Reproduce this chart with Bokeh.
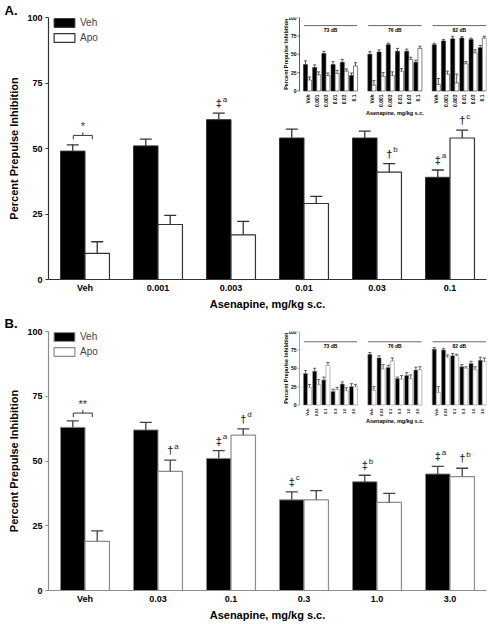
import numpy as np
from bokeh.plotting import figure
from bokeh.models import Range1d, ColumnDataSource, LabelSet, Label, Legend, LegendItem, Title
from bokeh.layouts import column
from bokeh.embed import file_html
from bokeh.resources import INLINE
from bokeh.core.properties import value

# ---------------- Panel A data ----------------
a_doses = ["Veh", "0.001", "0.003", "0.01", "0.03", "0.1"]
a_veh = [49, 51, 61, 54, 54, 39]
a_veh_err = [2.4, 2.6, 2.5, 3.4, 2.6, 2.8]
a_apo = [10, 21, 17, 29, 41, 54]
a_apo_err = [4.4, 3.5, 5.2, 2.7, 3.2, 3.0]
a_mark_dose = ["0.003", "0.03", "0.1", "0.1"]
a_mark_group = ["Veh", "Apo", "Veh", "Apo"]
a_mark_sym = ["‡", "†", "‡", "†"]
a_mark_letter = ["a", "b", "a", "c"]
a_bracket_dose = "Veh"
a_bracket_text = "*"
a_bracket_level = 55
a_inset_levels = ["73 dB", "76 dB", "82 dB"]
a_inset_doses = ["Veh", "0.001", "0.003", "0.01", "0.03", "0.1"]
a_inset_veh = [[36, 32, 51, 36, 39, 21], [50, 53, 63, 54, 54, 39], [63, 68, 71, 72, 70, 59]]
a_inset_veh_err = [[5, 3.5, 3, 4, 4, 3.5], [3.5, 3, 2, 4, 3, 3], [2, 2, 3.5, 2, 2, 3]]
a_inset_apo = [[15, 22, 21, 24, 27, 34], [8, 20, 21, 27, 43, 58], [9, 23, 11, 37, 52, 72]]
a_inset_apo_err = [[4, 4, 3.5, 4, 3, 4.5], [6, 5, 5, 3.5, 3, 3], [8, 4, 12, 3, 4, 2.5]]

# ---------------- Panel B data ----------------
b_doses = ["Veh", "0.03", "0.1", "0.3", "1.0", "3.0"]
b_veh = [63, 62, 51, 35, 42, 45]
b_veh_err = [2.5, 2.9, 3.0, 3.1, 2.5, 2.9]
b_apo = [19, 46, 60, 35, 34, 44]
b_apo_err = [4.0, 4.3, 2.4, 3.6, 3.5, 3.2]
b_mark_dose = ["0.03", "0.1", "0.1", "0.3", "1.0", "3.0", "3.0"]
b_mark_group = ["Apo", "Veh", "Apo", "Veh", "Veh", "Veh", "Apo"]
b_mark_sym = ["†", "‡", "†", "‡", "‡", "‡", "†"]
b_mark_letter = ["a", "a", "d", "c", "b", "a", "b"]
b_bracket_dose = "Veh"
b_bracket_text = "**"
b_bracket_level = 68.5
b_inset_levels = ["73 dB", "76 dB", "82 dB"]
b_inset_doses = ["Veh", "0.03", "0.1", "0.3", "1.0", "3.0"]
b_inset_veh = [[43, 46, 34, 18.5, 28.5, 25], [69, 64, 51, 36, 40, 47.5], [76, 75, 67, 52, 56.5, 61]]
b_inset_veh_err = [[4, 4, 4, 3, 3, 4], [2.5, 3, 3, 2, 4, 4], [2, 2, 3, 3, 3, 4]]
b_inset_apo = [[24, 27.5, 54, 21, 19.5, 25], [20, 49, 60, 35, 36, 48], [17, 65, 67, 50, 48, 59]]
b_inset_apo_err = [[4, 7, 4, 3, 4, 3], [5, 6, 4, 5, 5, 4], [8, 3, 2, 2, 4, 5]]

y_ticks = [0, 25, 50, 75, 100]
x_title = "Asenapine, mg/kg s.c."
y_title = "Percent Prepulse Inhibition"

SANS = "Liberation Sans"
MARK_FONT = "Liberation Sans"
WIDTH = 488
LEFT = 48
RIGHT = 2
FW = WIDTH - LEFT - RIGHT  # frame width
GROUP_PX = FW / 6.0


def build(tag, doses, veh, veh_err, apo, apo_err, m_dose, m_grp, m_sym, m_let,
          br_dose, br_text, br_level, in_levels, in_doses, in_veh, in_veh_err, in_apo, in_apo_err,
          height, top, bottom, axis_col, outline_col, err_col, in_axis_col, db_level, in_xt_off,
          in_tick_font, tag_standoff):
    H = height - top - bottom
    ppu = H / 100.0
    p = figure(width=WIDTH, height=height, x_range=Range1d(-0.5, 5.5), y_range=Range1d(0, 100),
               min_border_left=LEFT, min_border_right=RIGHT, min_border_top=top, min_border_bottom=bottom,
               output_backend="svg", toolbar_location=None, tools="")
    p.outline_line_color = None
    p.xgrid.visible = False
    p.ygrid.visible = False
    p.background_fill_color = "white"

    # panel tag as the plot title
    p.title = Title(text=tag, align="left", offset=-44, standoff=tag_standoff,
                    text_font=SANS, text_font_style="bold", text_font_size="13px",
                    text_color="black", vertical_align="bottom")

    # axes
    p.yaxis.ticker = y_ticks
    p.yaxis.major_tick_out = 3
    p.yaxis.major_tick_in = 0
    p.yaxis.minor_tick_line_color = None
    p.yaxis.axis_line_color = axis_col
    p.yaxis.major_tick_line_color = axis_col
    p.yaxis.major_label_standoff = 3
    p.yaxis.axis_label = y_title
    p.yaxis.axis_label_standoff = 4
    p.xaxis.ticker = list(range(len(doses)))
    p.xaxis.major_label_overrides = {i: d for i, d in enumerate(doses)}
    p.xaxis.major_tick_out = 0
    p.xaxis.major_tick_in = 0
    p.xaxis.minor_tick_line_color = None
    p.xaxis.axis_line_color = axis_col
    p.xaxis.major_label_standoff = 3
    p.xaxis.axis_label = x_title
    p.xaxis.axis_label_standoff = 2
    for ax in (p.xaxis, p.yaxis):
        ax.major_label_text_font = SANS
        ax.major_label_text_font_style = "bold"
        ax.major_label_text_font_size = "9px"
        ax.major_label_text_color = "black"
        ax.axis_label_text_font = SANS
        ax.axis_label_text_font_style = "bold"
        ax.axis_label_text_font_size = "11px"
        ax.axis_label_text_color = "black"
        ax.axis_line_width = 1.2

    off = 0.1675
    bw = 0.335
    cap = 6 / GROUP_PX
    x = np.arange(len(doses), dtype=float)
    veh_a = np.array(veh, float)
    apo_a = np.array(apo, float)
    veh_top = veh_a + np.array(veh_err)
    apo_top = apo_a + np.array(apo_err)

    rb = p.vbar(x=x - off, top=veh_a, bottom=0, width=bw, fill_color="black", line_color=outline_col, line_width=1)
    rw = p.vbar(x=x + off, top=apo_a, bottom=0, width=bw, fill_color="white", line_color=outline_col, line_width=1.2)
    ex = np.concatenate([x - off, x + off])
    e0 = np.concatenate([veh_a, apo_a])
    e1 = np.concatenate([veh_top, apo_top])
    p.segment(x0=ex, y0=e0, x1=ex, y1=e1, line_color=err_col, line_width=1.3)
    p.segment(x0=ex - cap, y0=e1, x1=ex + cap, y1=e1, line_color=err_col, line_width=1.3)

    # significance marks
    idx = {d: i for i, d in enumerate(doses)}
    mx, my = [], []
    for d, g in zip(m_dose, m_grp):
        i = idx[d]
        if g == "Veh":
            mx.append(i - off); my.append(veh_top[i])
        else:
            mx.append(i + off); my.append(apo_top[i])
    msrc = ColumnDataSource(dict(x=mx, y=my, s=m_sym, l=m_let))
    p.add_layout(LabelSet(x="x", y="y", text="s", source=msrc, y_offset=10, text_align="center",
                          text_baseline="middle", text_font=value(MARK_FONT), text_font_size="11px",
                          text_font_style="bold", text_color="#333333"))
    p.add_layout(LabelSet(x="x", y="y", text="l", source=msrc, x_offset=4, y_offset=14, text_align="left",
                          text_baseline="middle", text_font=value(MARK_FONT), text_font_size="8px",
                          text_color="#222222"))

    # bracket
    bi = idx[br_dose]
    bl, br = bi - 0.16, bi + 0.10
    bm = (bl + br) / 2
    tick = 4 / ppu
    p.segment(x0=[bl, bl, br, bm], y0=[br_level, br_level, br_level, br_level],
              x1=[br, bl, br, bm], y1=[br_level, br_level - tick, br_level - tick, br_level + 3 / ppu],
              line_color="#333333", line_width=1)
    p.add_layout(Label(x=bm, y=br_level, text=br_text, y_offset=9, text_align="center",
                       text_baseline="middle", text_font=MARK_FONT, text_font_size="11px",
                       text_color="#333333"))

    # legend
    legend = Legend(items=[LegendItem(label="Veh", renderers=[rb]), LegendItem(label="Apo", renderers=[rw])],
                    location=(3, H - 26), orientation="vertical", glyph_width=26, glyph_height=11,
                    label_height=11, label_width=20, spacing=4, padding=0, margin=0, label_standoff=3,
                    border_line_color=None, background_fill_alpha=0,
                    label_text_font=SANS, label_text_font_size="10px")
    p.add_layout(legend)

    # ---------------- inset ----------------
    s_y = 0.735            # px per inset unit (y)
    s_x = 9.2              # px per inset slot (x)
    x0_px = 259.0          # px from frame left to first inset slot
    p.extra_y_ranges = {"iy": Range1d(100 - H / s_y, 100)}
    p.extra_x_ranges = {"ix": Range1d(-x0_px / s_x, (FW - x0_px) / s_x)}
    R = dict(x_range_name="ix", y_range_name="iy")

    ipos, iv, ive, ia, iae, ilab = [], [], [], [], [], []
    for g in range(len(in_levels)):
        for i in range(len(in_doses)):
            ipos.append(g * 7 + i)
            iv.append(in_veh[g][i]); ive.append(in_veh[g][i] + in_veh_err[g][i])
            ia.append(in_apo[g][i]); iae.append(in_apo[g][i] + in_apo_err[g][i])
            ilab.append(in_doses[i])
    ipos = np.array(ipos, float)
    ib = 0.44
    ioff = 0.22
    icap = 1.6 / s_x
    p.vbar(x=ipos - ioff, top=iv, bottom=0, width=ib, fill_color="black", line_color=outline_col,
           line_width=0.6, **R)
    p.vbar(x=ipos + ioff, top=ia, bottom=0, width=ib, fill_color="white", line_color=outline_col,
           line_width=0.6, **R)
    iex = np.concatenate([ipos - ioff, ipos + ioff])
    ie0 = np.concatenate([iv, ia])
    ie1 = np.concatenate([ive, iae])
    p.segment(x0=iex, y0=ie0, x1=iex, y1=ie1, line_color=err_col, line_width=0.8, **R)
    p.segment(x0=iex - icap, y0=ie1, x1=iex + icap, y1=ie1, line_color=err_col, line_width=0.8, **R)

    # inset y axis
    iax = -8.0 / s_x
    p.segment(x0=[iax], y0=[0], x1=[iax], y1=[100], line_color=in_axis_col, line_width=0.8, **R)
    itl = 2.0 / s_x
    p.segment(x0=[iax - itl] * len(y_ticks), y0=y_ticks, x1=[iax] * len(y_ticks), y1=y_ticks,
              line_color=in_axis_col, line_width=0.8, **R)
    tsrc = ColumnDataSource(dict(x=[iax] * len(y_ticks), y=y_ticks, t=[str(t) for t in y_ticks]))
    p.add_layout(LabelSet(x="x", y="y", text="t", source=tsrc, x_offset=-3, text_align="right",
                          text_baseline="middle", text_font=value(SANS), text_font_size="5px",
                          text_font_style="bold", text_color="black", **R))
    p.add_layout(Label(x=iax, y=50, text=y_title, x_offset=-14, angle=np.pi / 2, text_align="center",
                       text_baseline="middle", text_font=SANS, text_font_size="5.5px",
                       text_font_style="bold", text_color="black", **R))
    # inset x labels
    lsrc = ColumnDataSource(dict(x=ipos, y=[0] * len(ipos), t=ilab))
    p.add_layout(LabelSet(x="x", y="y", text="t", source=lsrc, y_offset=-3.5, angle=np.pi / 2,
                          text_align="right", text_baseline="middle", text_font=value(SANS),
                          text_font_size=in_tick_font, text_font_style="bold", text_color="black", **R))
    p.add_layout(Label(x=9.5, y=0, text=x_title, y_offset=in_xt_off, text_align="center",
                       text_baseline="middle", text_font=SANS, text_font_size="5.5px",
                       text_font_style="bold", text_color="black", **R))
    # dB groups
    gx0 = [g * 7 - 0.4 for g in range(len(in_levels))]
    gx1 = [g * 7 + 5.4 for g in range(len(in_levels))]
    p.segment(x0=gx0, y0=[db_level] * 3, x1=gx1, y1=[db_level] * 3, line_color="#666666",
              line_width=1, **R)
    dsrc = ColumnDataSource(dict(x=[g * 7 + 2.5 for g in range(len(in_levels))], y=[db_level] * 3,
                                 t=in_levels))
    p.add_layout(LabelSet(x="x", y="y", text="t", source=dsrc, y_offset=-4.5, text_align="center",
                          text_baseline="middle", text_font=value(SANS), text_font_size="5px",
                          text_font_style="bold", text_color="black", **R))
    return p


pa = build("A.", a_doses, a_veh, a_veh_err, a_apo, a_apo_err, a_mark_dose, a_mark_group, a_mark_sym,
           a_mark_letter, a_bracket_dose, a_bracket_text, a_bracket_level, a_inset_levels, a_inset_doses,
           a_inset_veh, a_inset_veh_err, a_inset_apo, a_inset_apo_err,
           height=313, top=17, bottom=34, axis_col="#333333", outline_col="#333333", err_col="#333333",
           in_axis_col="#333333", db_level=89, in_xt_off=-22, in_tick_font="5px", tag_standoff=0)
pb = build("B.", b_doses, b_veh, b_veh_err, b_apo, b_apo_err, b_mark_dose, b_mark_group, b_mark_sym,
           b_mark_letter, b_bracket_dose, b_bracket_text, b_bracket_level, b_inset_levels, b_inset_doses,
           b_inset_veh, b_inset_veh_err, b_inset_apo, b_inset_apo_err,
           height=311, top=18, bottom=34, axis_col="#8c8c8c", outline_col="#8c8c8c", err_col="#444444",
           in_axis_col="#8c8c8c", db_level=86, in_xt_off=-16, in_tick_font="4px", tag_standoff=1)

layout = column(pa, pb, spacing=0)
open("out.html", "w").write(file_html(layout, INLINE))
